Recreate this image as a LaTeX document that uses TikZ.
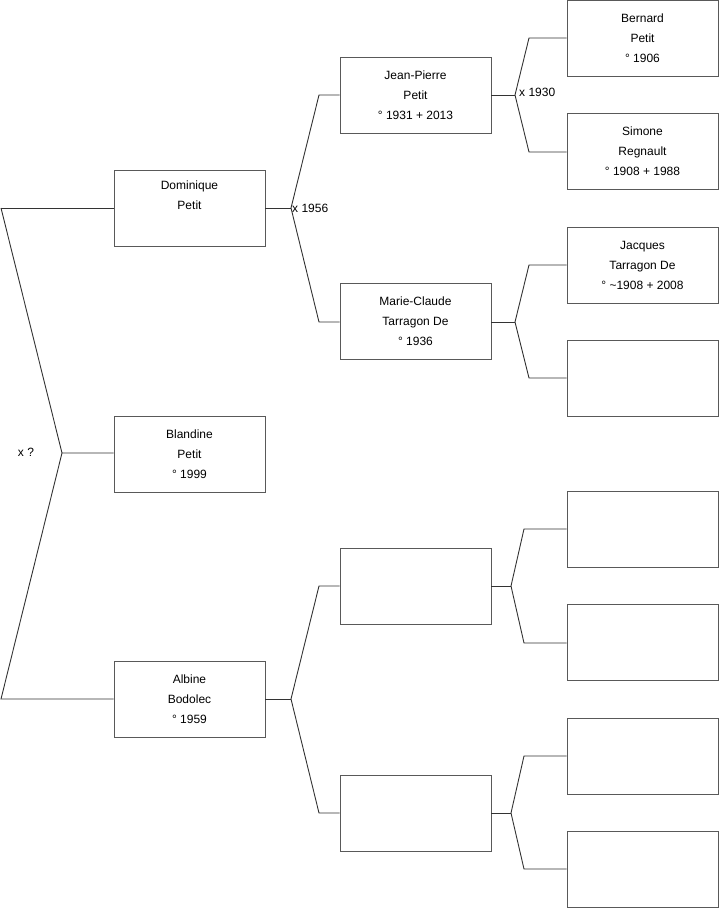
\documentclass[tikz,border=0pt]{standalone}
\usepackage{fontspec}
\setmainfont{Liberation Sans}
\usepackage{tikz}
\usetikzlibrary{positioning}

\begin{document}
\begin{tikzpicture}[
        x=1pt, y=-1pt,
        person/.style={
            rectangle,
            draw=black!65,
            fill=white,
            line width=0.9pt,
            align=center,
            font=\fontsize{12}{20}\selectfont,
            inner sep=0pt,
            minimum width=151pt,
            minimum height=76pt
        },
        link/.style={
            line width=0.9pt,
            draw=black!80
        },
        mariage/.style={
            font=\fontsize{12}{14}\selectfont,
            inner sep=0pt
        }
    ]
        \useasboundingbox (0,0) rectangle (719,908);

        % generation 0
        \node (dominique) [person] at (189.5,208) {Dominique\\Petit\\\strut};
        \node (blandine) [person] at (189.5,454) {Blandine\\Petit\\° 1999};
        \node (albine) [person] at (189.5,699.5) {Albine\\Bodolec\\° 1959};

        % generation 1
        \node (jeanpierre) [person] at (415.5,95) {Jean-Pierre\\Petit\\° 1931 + 2013};
        \node (marieclaude) [person] at (415.5,321) {Marie-Claude\\Tarragon De\\° 1936};
        \node (pereA) [person] at (415.5,586) {};
        \node (mereA) [person] at (415.5,813) {};

        % generation 2
        \node (bernard) [person] at (642.5,38.5) {Bernard\\Petit\\° 1906};
        \node (simone) [person] at (642.5,151) {Simone\\Regnault\\° 1908 + 1988};
        \node (jacques) [person] at (642.5,265) {Jacques\\Tarragon De\\° \textasciitilde1908 + 2008};
        \node (mereMC) [person] at (642.5,378) {};
        \node (gpA1) [person] at (642.5,529) {};
        \node (gpA2) [person] at (642.5,642) {};
        \node (gpA3) [person] at (642.5,756) {};
        \node (gpA4) [person] at (642.5,869) {};

        % fratrie
        \coordinate (f0) at (1,208);
        \coordinate (f1) at (62,453);
        \coordinate (f2) at (1,699);
        \draw [link] (f0) -- (dominique.west |- f0);
        \draw [link] (f0) -- (f1) -- (blandine.west |- f1);
        \draw [link] (f1) -- (f2) -- (albine.west |- f2);
        \node (xf) [mariage] at (26,452) {x ?};

        % parents
        \coordinate (jd) at (291,208);
        \draw [link] (dominique.east |- jd) -- (jd);
        \draw [link] (jd) -- (319,95) -- (jeanpierre.west |- 0,95);
        \draw [link] (jd) -- (319,322) -- (marieclaude.west |- 0,322);
        \node (xd) [mariage, anchor=west] at (292,208) {x 1956};

        \coordinate (ja) at (291,699);
        \draw [link] (albine.east |- ja) -- (ja);
        \draw [link] (ja) -- (319,586) -- (pereA.west |- 0,586);
        \draw [link] (ja) -- (319,813) -- (mereA.west |- 0,813);

        % grands-parents
        \coordinate (jjp) at (515,95);
        \draw [link] (jeanpierre.east |- jjp) -- (jjp);
        \draw [link] (jjp) -- (529,38) -- (bernard.west |- 0,38);
        \draw [link] (jjp) -- (529,152) -- (simone.west |- 0,152);
        \node (xjp) [mariage, anchor=west] at (519,92) {x 1930};

        \coordinate (jmc) at (515,322);
        \draw [link] (marieclaude.east |- jmc) -- (jmc);
        \draw [link] (jmc) -- (529,265) -- (jacques.west |- 0,265);
        \draw [link] (jmc) -- (529,378) -- (mereMC.west |- 0,378);

        \coordinate (jpa) at (511,586);
        \draw [link] (pereA.east |- jpa) -- (jpa);
        \draw [link] (jpa) -- (524,529) -- (gpA1.west |- 0,529);
        \draw [link] (jpa) -- (524,643) -- (gpA2.west |- 0,643);

        \coordinate (jma) at (511,813);
        \draw [link] (mereA.east |- jma) -- (jma);
        \draw [link] (jma) -- (524,756) -- (gpA3.west |- 0,756);
        \draw [link] (jma) -- (524,869) -- (gpA4.west |- 0,869);
    \end{tikzpicture}
\end{document}
